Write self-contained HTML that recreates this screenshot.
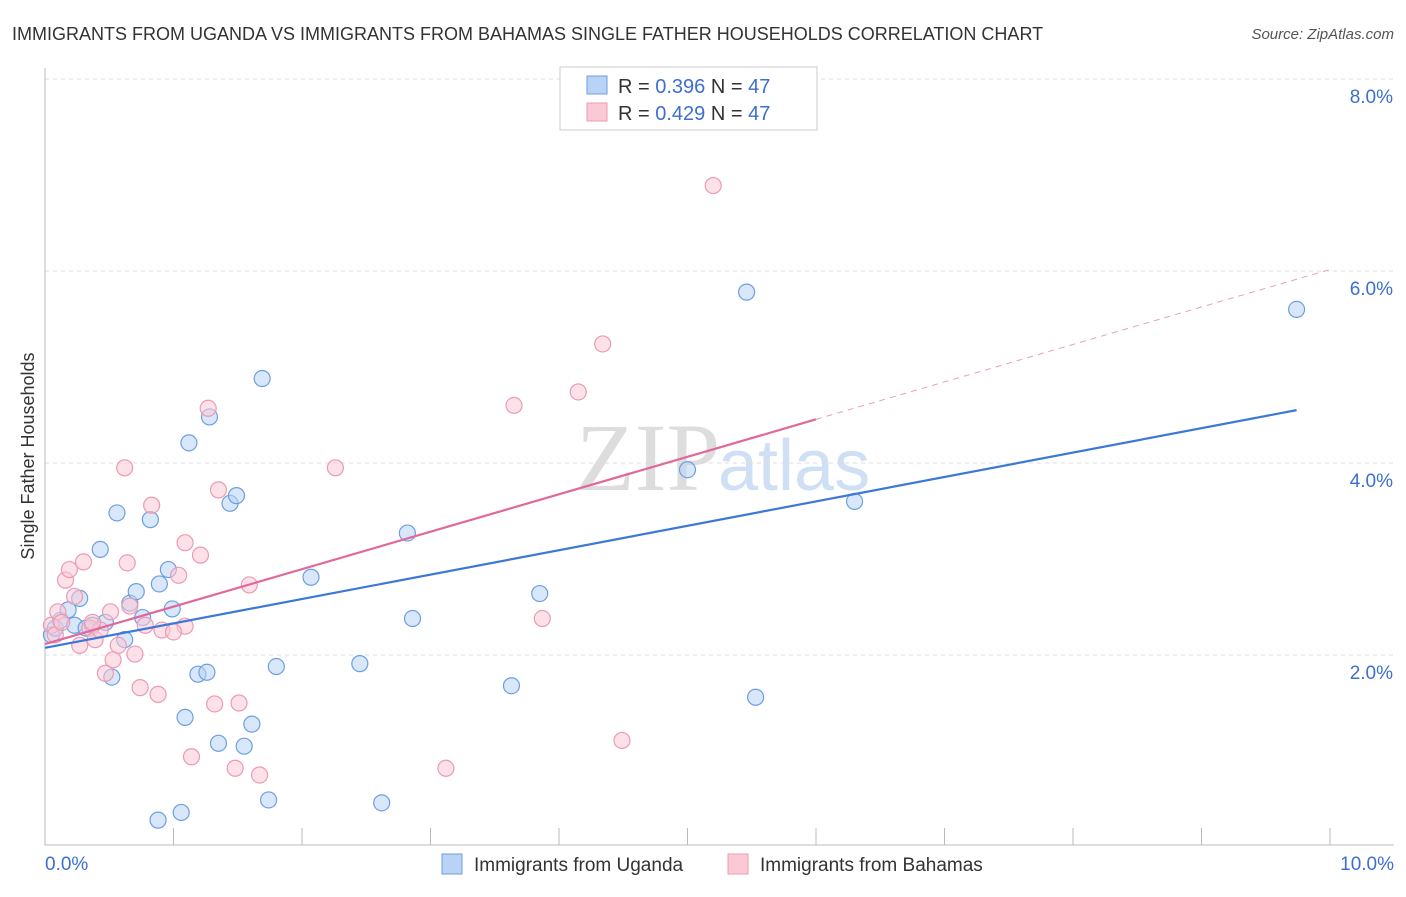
<!DOCTYPE html>
<html><head><meta charset="utf-8"><style>
body{margin:0;background:#fff;font-family:"Liberation Sans",sans-serif}
</style></head><body>
<svg id="c" width="1406" height="892" xmlns="http://www.w3.org/2000/svg" style="font-family:'Liberation Sans',sans-serif">
<text x="12" y="40" font-size="18" fill="#333">IMMIGRANTS FROM UGANDA VS IMMIGRANTS FROM BAHAMAS SINGLE FATHER HOUSEHOLDS CORRELATION CHART</text>
<text x="1394" y="39" font-size="15" fill="#555" font-style="italic" text-anchor="end">Source: ZipAtlas.com</text>
<text x="720" y="490" font-size="96" fill="#ddd" text-anchor="end" font-family="Liberation Serif">ZIP</text>
<text x="718" y="490" font-size="72" fill="#cfe0f5">atlas</text>
<g id="grid"></g><g id="axes"></g><g id="marks"></g>
<text transform="translate(34,456) rotate(-90)" font-size="18" fill="#333" text-anchor="middle">Single Father Households</text>
<g>
<rect x="560" y="67" width="257" height="63" fill="#fff" stroke="#ccc"/>
<rect x="587" y="76" width="20" height="18" fill="#b8d3f5" stroke="#6d9fe0"/>
<rect x="587" y="103" width="20" height="18" fill="#fbc9d6" stroke="#ec9ab2"/>
<text x="618" y="93" font-size="20" fill="#333">R = <tspan fill="#3d6fd1">0.396</tspan>   N = <tspan fill="#3d6fd1">47</tspan></text>
<text x="618" y="120" font-size="20" fill="#333">R = <tspan fill="#3d6fd1">0.429</tspan>   N = <tspan fill="#3d6fd1">47</tspan></text>
</g>
<g>
<rect x="442" y="854" width="20" height="20" fill="#b8d3f5" stroke="#6d9fe0"/>
<text x="474" y="871" font-size="19" fill="#333">Immigrants from Uganda</text>
<rect x="728" y="854" width="20" height="20" fill="#fbc9d6" stroke="#ec9ab2"/>
<text x="760" y="871" font-size="19" fill="#333">Immigrants from Bahamas</text>
</g>
</svg>
<script>
const yTicks=[2,4,6,8];
const yTickLabels=["2.0%","4.0%","6.0%","8.0%"];
const xTickLabels=["0.0%","10.0%"];
const ugX=[.05,.08,.12,.18,.23,.27,.32,.37,.43,.47,.52,.56,.62,.66,.71,.76,.82,.89,.96,.99,1.09,1.12,1.19,1.26,1.28,1.35,1.44,1.49,1.55,1.61,1.69,1.74,1.80,2.07,2.45,2.62,2.82,2.86,3.63,3.85,5.00,5.46,5.53,6.30,9.74,.88,1.06];
const ugY=[2.21,2.28,2.36,2.47,2.31,2.59,2.28,2.31,3.10,2.34,1.77,3.48,2.16,2.54,2.66,2.39,3.41,2.74,2.89,2.48,1.35,4.21,1.80,1.82,4.48,1.08,3.58,3.66,1.05,1.28,4.88,0.49,1.88,2.81,1.91,0.46,3.27,2.38,1.68,2.64,3.93,5.78,1.56,3.60,5.60,0.28,0.36];
const bhX=[.05,.08,.10,.13,.16,.19,.23,.27,.30,.35,.39,.43,.47,.51,.53,.57,.62,.64,.66,.70,.74,.78,.83,.88,.91,1.04,1.09,1.09,1.14,1.21,1.27,1.32,1.35,1.48,1.51,1.59,1.67,2.26,3.12,3.65,3.87,4.15,4.34,4.49,5.20,1.00,.37];
const bhY=[2.31,2.21,2.45,2.34,2.78,2.89,2.61,2.10,2.97,2.28,2.16,2.26,1.81,2.45,1.95,2.10,3.95,2.96,2.51,2.01,1.66,2.31,3.56,1.59,2.26,2.83,2.30,3.17,0.94,3.04,4.57,1.49,3.72,0.82,1.50,2.73,0.75,3.95,0.82,4.60,2.38,4.74,5.24,1.11,6.89,2.24,2.34];
const NS="http://www.w3.org/2000/svg";
const X=v=>45+v*128.5, Y=v=>847-v*96;
function mk(tag,attrs,parent){const e=document.createElementNS(NS,tag);for(const k in attrs)e.setAttribute(k,attrs[k]);parent.appendChild(e);return e;}
const grid=document.getElementById('grid'),axes=document.getElementById('axes'),marks=document.getElementById('marks');
yTicks.forEach((t,i)=>{
 const l=mk('line',{x1:45,x2:1394,y1:Y(t),y2:Y(t),stroke:'#ddd','stroke-dasharray':'4,4'},grid);
 
 
 const tx=mk('text',{x:1393,y:Y(t)+24,'font-size':19,fill:'#3d6fd1','text-anchor':'end'},axes);
 tx.textContent=yTickLabels[i];
 
 
});
const ax=mk('path',{d:'M45,68V845H1394',stroke:'#bbb',fill:'none'},axes);


for(let i=0;i<=10;i++){
 const t=mk('line',{x1:X(i),x2:X(i),y1:828,y2:845,stroke:'#bbb'},axes);
 
 
}
[[0,'start',45],[10,'end',1394]].forEach((d,i)=>{
 const tx=mk('text',{x:d[2],y:870,'font-size':19,fill:'#3d6fd1','text-anchor':d[1]},axes);
 tx.textContent=xTickLabels[i];
 
 
});
function fit(xs,ys){const n=xs.length;let mx=0,my=0;xs.forEach((v,i)=>{mx+=v;my+=ys[i]});mx/=n;my/=n;let sxy=0,sxx=0;xs.forEach((v,i)=>{sxy+=(v-mx)*(ys[i]-my);sxx+=(v-mx)**2});const b=sxy/sxx;return[my-b*mx,b];}
function series(xs,ys,fill,stroke,name){
 xs.forEach((v,i)=>{
  const c=mk('circle',{cx:X(v),cy:Y(ys[i]),r:8,fill:fill,'fill-opacity':0.55,stroke:stroke,'stroke-width':1.2},marks);
  
  
 });
}
series(ugX,ugY,'#b8d3f5','#6d9fe0','uganda');
series(bhX,bhY,'#fbc9d6','#ec9ab2','bahamas');
const [ua,ub]=fit(ugX,ugY);
const ul=mk('line',{x1:X(0),y1:Y(ua),x2:X(9.74),y2:Y(ua+ub*9.74),stroke:'#3b78d8','stroke-width':2.2},marks);


const [ba,bb]=fit(bhX,bhY);
const bmax=Math.max(...bhX)+0.8;
const bl=mk('line',{x1:X(0),y1:Y(ba),x2:X(bmax),y2:Y(ba+bb*bmax),stroke:'#e0689a','stroke-width':2.2},marks);


const bd=mk('line',{x1:X(bmax),y1:Y(ba+bb*bmax),x2:X(10),y2:Y(ba+bb*10),stroke:'#e8a0b8','stroke-width':1,'stroke-dasharray':'6,5'},marks);


</script>
</body></html>
